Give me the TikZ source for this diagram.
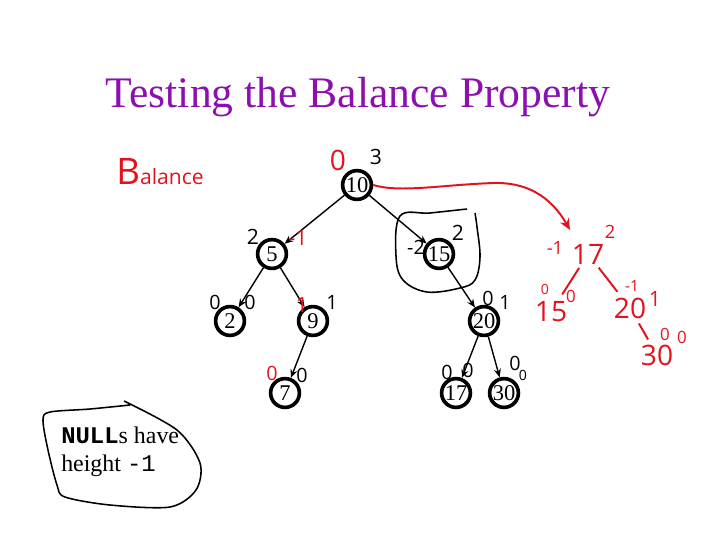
\documentclass[tikz,border=0pt]{standalone}
\usepackage{fontspec}
\setmainfont{Liberation Serif}
\setmonofont{Liberation Mono}
\setsansfont{Open Sans}
\usetikzlibrary{arrows.meta, positioning}
\definecolor{titlepurple}{RGB}{140,16,176}
\definecolor{inkred}{RGB}{225,20,30}

\begin{document}
\begin{tikzpicture}[x=0.025cm, y=-0.025cm,
  vertex/.style={circle, draw, line width=2.6pt, minimum size=0.72cm,
                 inner sep=0pt, font=\fontsize{16}{16}\selectfont},
  edge/.style={-{Stealth[length=6pt,width=5pt]}, line width=1pt},
  hand/.style={inner sep=0pt, font=\sffamily\fontsize{#1}{#1}\selectfont},
  hand/.default=14,
  redhand/.style={hand=#1, text=inkred},
  redhand/.default=14,
  ink/.style={line width=1.1pt},
  redink/.style={draw=inkred, line width=1.4pt},
]
\useasboundingbox (0,0) rectangle (720,540);

\node[font=\fontsize{31}{36}\selectfont, text=titlepurple] (title) at (358,97) {Testing the Balance Property};
\node[redhand=15] (balance) at (160,172) {{\fontsize{26}{26}\selectfont B}alance};

% the tree
\node[vertex] (n10) at (357,185) {10};
\node[vertex] (n5)  at (272,254) {5};
\node[vertex] (n15) at (439,254) {15};
\node[vertex] (n2)  at (230,321) {2};
\node[vertex] (n9)  at (313,321) {9};
\node[vertex] (n20) at (484,321) {20};
\node[vertex] (n7)  at (285,393) {7};
\node[vertex] (n17) at (456,393) {17};
\node[vertex] (n30) at (504,393) {30};

\draw[edge] (n10) -- (n5);
\draw[edge] (n10) -- (n15);
\draw[edge] (n5) -- (n2);
\draw[edge] (n5) -- (n9);
\draw[edge] (n9) -- (n7);
\draw[edge] (n15) -- (n20);
\draw[edge] (n20) -- (n17);
\draw[edge] (n20) -- (n30);

% balance and height notes
\node[redhand=20] (b10) at (338,160) {0};
\node[hand=15] (h10) at (376,157) {3};
\node[hand=15] (h5)  at (253,237) {2};
\node[redhand=15] (b5) at (298,238) {-1};
\node[hand] (b2)  at (215,302) {0};
\node[hand] (h2)  at (250,302) {0};
\node[redhand=15] (b9) at (302,305) {1};
\node[hand] (h9)  at (332,302) {1};
\node[hand] (b15) at (416,247) {-2};
\node[hand=15] (h15) at (458,233) {2};
\node[hand] (b20) at (488,298) {0};
\node[hand] (h20) at (505,302) {1};
\node[redhand] (b7) at (272,373) {0};
\node[hand] (h7)  at (302,375) {0};
\node[hand] (b17) at (447,372) {0};
\node[hand] (h17) at (468,370) {0};
\node[hand] (b30) at (515,363) {0};
\node[hand=10] (h30) at (523,375) {0};

% 15 picked out
\draw[ink] plot[smooth, tension=0.6] coordinates {(467,209) (430,213) (400,216) (396,256) (403,280) (427,292) (460,288) (475,280) (480,257) (477,227) (475,213)};

% the rotated tree
\node[redhand=20] (r17) at (588,254) {17};
\node[redhand=13] (rb17) at (555,248) {-1};
\node[redhand=13] (rh17) at (610,232) {2};
\node[redhand=20] (r15) at (551,312) {15};
\node[redhand=10] (rb15) at (545,289) {0};
\node[redhand=12] (rh15) at (571,296) {0};
\node[redhand=20] (r20) at (630,308) {20};
\node[redhand=11] (rb20) at (632,286) {-1};
\node[redhand=15] (rh20) at (655,299) {1};
\node[redhand=20] (r30) at (657,355) {30};
\node[redhand=12] (rb30) at (665,334) {0};
\node[redhand=12] (rh30) at (682,337) {0};
\coordinate (tip) at (570,230);

\draw[redink, shorten <=3pt, shorten >=6pt] (r17) -- (r15);
\draw[redink, shorten <=3pt, shorten >=5pt] (r17) -- (r20);
\draw[redink, shorten <=4pt, shorten >=4pt] (r20) -- (r30);
\draw[redink, -{Stealth[length=8pt,width=7pt]}] (n10.east) .. controls (400,193) and (440,185) .. (493,183) .. controls (525,182) and (550,195) .. (tip);

% note on NULL
\draw[ink] plot[smooth, tension=0.5] coordinates {(130,405) (90,409) (50,412) (43,420) (48,450) (57,485) (65,497) (110,505) (170,507) (196,490) (200,463) (177,430) (124,401)};
\node[anchor=west, align=left, inner sep=0pt, font=\fontsize{17}{20}\selectfont] (nulls) at (61,452) {\texttt{\textbf{NULL}}s have\\height \texttt{-1}};
\end{tikzpicture}
\end{document}
